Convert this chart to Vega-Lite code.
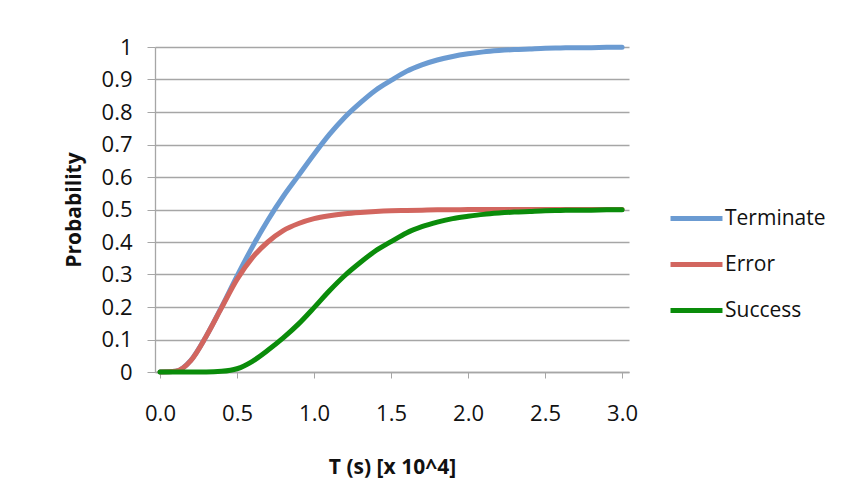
{
  "$schema": "https://vega.github.io/schema/vega-lite/v6.json",
  "autosize": {"type": "none"},
  "width": 474,
  "height": 325,
  "padding": {"left": 155, "top": 47, "right": 221, "bottom": 110},
  "background": "white",
  "config": {
    "font": "Open Sans",
    "view": {"stroke": null}
  },
  "data": {
    "values": [
      {"t": 0.0, "Terminate": 0.0, "Error": 0.0, "Success": 0.0},
      {"t": 0.1, "Terminate": 0.002, "Error": 0.002, "Success": 0.0},
      {"t": 0.2, "Terminate": 0.036, "Error": 0.035, "Success": 0.0},
      {"t": 0.3, "Terminate": 0.11, "Error": 0.11, "Success": 0.0},
      {"t": 0.4, "Terminate": 0.2, "Error": 0.198, "Success": 0.002},
      {"t": 0.5, "Terminate": 0.295, "Error": 0.285, "Success": 0.01},
      {"t": 0.6, "Terminate": 0.385, "Error": 0.352, "Success": 0.033},
      {"t": 0.7, "Terminate": 0.467, "Error": 0.4, "Success": 0.067},
      {"t": 0.8, "Terminate": 0.54, "Error": 0.435, "Success": 0.105},
      {"t": 0.9, "Terminate": 0.605, "Error": 0.457, "Success": 0.148},
      {"t": 1.0, "Terminate": 0.67, "Error": 0.472, "Success": 0.198},
      {"t": 1.1, "Terminate": 0.731, "Error": 0.481, "Success": 0.25},
      {"t": 1.2, "Terminate": 0.784, "Error": 0.487, "Success": 0.297},
      {"t": 1.3, "Terminate": 0.828, "Error": 0.491, "Success": 0.337},
      {"t": 1.4, "Terminate": 0.867, "Error": 0.494, "Success": 0.373},
      {"t": 1.5, "Terminate": 0.897, "Error": 0.496, "Success": 0.401},
      {"t": 1.6, "Terminate": 0.925, "Error": 0.497, "Success": 0.428},
      {"t": 1.7, "Terminate": 0.945, "Error": 0.498, "Success": 0.447},
      {"t": 1.8, "Terminate": 0.96, "Error": 0.499, "Success": 0.461},
      {"t": 1.9, "Terminate": 0.971, "Error": 0.499, "Success": 0.472},
      {"t": 2.0, "Terminate": 0.979, "Error": 0.5, "Success": 0.479},
      {"t": 2.1, "Terminate": 0.985, "Error": 0.5, "Success": 0.485},
      {"t": 2.2, "Terminate": 0.989, "Error": 0.5, "Success": 0.489},
      {"t": 2.3, "Terminate": 0.992, "Error": 0.5, "Success": 0.492},
      {"t": 2.4, "Terminate": 0.994, "Error": 0.5, "Success": 0.494},
      {"t": 2.5, "Terminate": 0.996, "Error": 0.5, "Success": 0.496},
      {"t": 2.6, "Terminate": 0.997, "Error": 0.5, "Success": 0.497},
      {"t": 2.7, "Terminate": 0.998, "Error": 0.5, "Success": 0.498},
      {"t": 2.8, "Terminate": 0.998, "Error": 0.5, "Success": 0.498},
      {"t": 2.9, "Terminate": 0.999, "Error": 0.5, "Success": 0.499},
      {"t": 3.0, "Terminate": 0.999, "Error": 0.5, "Success": 0.499}
    ]
  },
  "transform": [
    {"fold": ["Terminate", "Error", "Success"], "as": ["series", "p"]}
  ],
  "mark": {"type": "line", "strokeWidth": 5, "strokeCap": "round", "strokeJoin": "round", "interpolate": "monotone", "clip": false},
  "encoding": {
    "x": {
      "field": "t",
      "type": "quantitative",
      "scale": {"domain": [-0.0325, 3.045], "nice": false, "zero": false},
      "axis": {
        "title": "T (s) [x 10^4]",
        "titleFontSize": 21,
        "titleFontWeight": "bold",
        "titleColor": "#111111",
        "titlePadding": 32,
        "values": [0, 0.5, 1, 1.5, 2, 2.5, 3],
        "format": ".1f",
        "labelFontSize": 22,
        "labelColor": "#111111",
        "labelPadding": 25,
        "tickSize": 6,
        "tickColor": "#a6a6a6",
        "domainColor": "#a6a6a6",
        "domainWidth": 1.3,
        "grid": false
      }
    },
    "y": {
      "field": "p",
      "type": "quantitative",
      "scale": {"domain": [0, 1], "nice": false},
      "axis": {
        "title": "Probability",
        "titleFontSize": 21,
        "titleFontWeight": "bold",
        "titleColor": "#111111",
        "titlePadding": 17,
        "values": [0, 0.1, 0.2, 0.3, 0.4, 0.5, 0.6, 0.7, 0.8, 0.9, 1],
        "format": "~g",
        "labelFontSize": 22,
        "labelColor": "#111111",
        "labelPadding": 15,
        "tickSize": 8,
        "tickColor": "#a6a6a6",
        "domainColor": "#a6a6a6",
        "domainWidth": 1.3,
        "grid": true,
        "gridColor": "#a6a6a6",
        "gridWidth": 1.3
      }
    },
    "color": {
      "field": "series",
      "type": "nominal",
      "scale": {"domain": ["Terminate", "Error", "Success"], "range": ["#6b9bd2", "#d2665f", "#0a8c0a"]},
      "legend": {
        "title": null,
        "orient": "none",
        "legendX": 513,
        "legendY": 143,
        "symbolType": "stroke",
        "symbolSize": 2700,
        "symbolStrokeWidth": 5,
        "labelFontSize": 21,
        "labelColor": "#111111",
        "labelOffset": 0,
        "rowPadding": 7
      }
    }
  }
}
